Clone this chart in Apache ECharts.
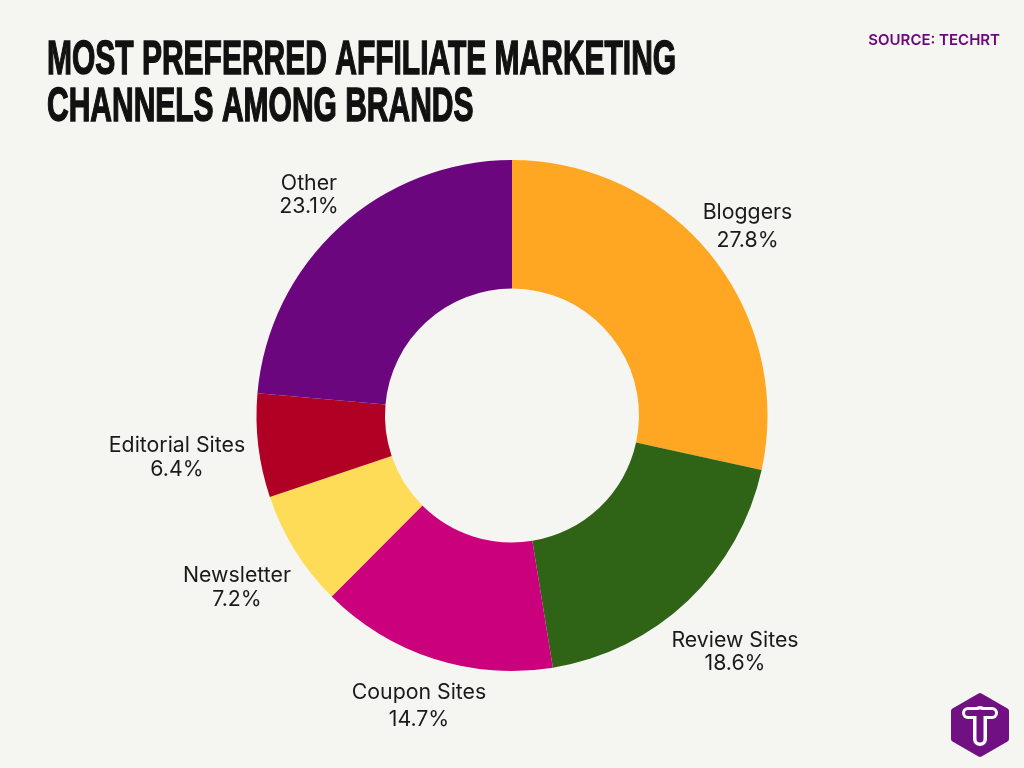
<!DOCTYPE html>
<html>
<head>
<meta charset="utf-8">
<style>
  html, body { margin: 0; padding: 0; background: #f5f5f1; }
  #chart { width: 1024px; height: 768px; }
</style>
<script src="https://cdn.jsdelivr.net/npm/echarts@6/dist/echarts.min.js"></script>
</head>
<body>
<div id="chart"></div>
<script>
const categories = ['Bloggers', 'Review Sites', 'Coupon Sites', 'Newsletter', 'Editorial Sites', 'Other'];
const shares = [27.8, 18.6, 14.7, 7.2, 6.4, 23.1];
const colors = ['#ffa623', '#2f6417', '#cb007c', '#ffdc58', '#b00024', '#6b067f'];
const titleLines = ['MOST PREFERRED AFFILIATE MARKETING', 'CHANNELS AMONG BRANDS'];

// label centres, placed by hand like in the reference
const labelCentres = [[747.5, 227], [735, 652], [419, 706], [237, 588], [177, 458], [309, 195]];
const labelLineHeights = [28, 23, 27, 24, 24, 23];

const myChart = echarts.init(document.getElementById('chart'));

// white T with a purple T inside, for the logo
function logoStroke(points, color, width) {
    return {
        type: 'polyline',
        shape: { points },
        style: { stroke: color, lineWidth: width, lineCap: 'round', fill: null },
    };
}

myChart.setOption({
    backgroundColor: '#f5f5f1',
    animation: false,
    title: {
        text: 'SOURCE: TECHRT',
        right: 24,
        top: 33,
        padding: 0,
        textStyle: {
            fontFamily: 'Inter',
            fontWeight: 600,
            fontSize: 15,
            color: '#6b067f',
        },
    },
    series: [
        {
            type: 'pie',
            center: [512, 415.5],
            radius: [127, 255.5],
            startAngle: 90,
            clockwise: true,
            avoidLabelOverlap: false,
            data: categories.map((name, i) => ({
                name,
                value: shares[i],
                itemStyle: { color: colors[i] },
                label: { lineHeight: labelLineHeights[i] },
            })),
            label: {
                formatter: (p) => p.name + '\n' + p.value + '%',
                fontFamily: 'Inter',
                fontSize: 21.3,
                color: '#1a1a1a',
                align: 'center',
            },
            labelLine: { show: false },
            labelLayout: (p) => ({
                x: labelCentres[p.dataIndex][0],
                y: labelCentres[p.dataIndex][1],
                align: 'center',
                verticalAlign: 'middle',
            }),
        },
    ],
    graphic: [
        ...titleLines.map((line, i) => ({
            type: 'text',
            x: 47,
            y: 36 + i * 47,
            scaleX: 0.612,
            style: {
                text: line,
                fontFamily: 'Liberation Sans',
                fontWeight: 'bold',
                fontSize: 49,
                verticalAlign: 'top',
                fill: '#111111',
                stroke: '#111111',
                lineWidth: 1.5,
            },
        })),
        {
            type: 'polygon',
            shape: { points: [[980, 696], [1006, 711], [1006, 739], [980, 754], [954, 739], [954, 711]] },
            style: {
                fill: '#701083',
                stroke: '#701083',
                lineWidth: 6,
                lineJoin: 'round',
            },
        },
        logoStroke([[968, 713], [992, 713]], '#ffffff', 12),
        logoStroke([[980, 713], [980, 739]], '#ffffff', 14),
        logoStroke([[968, 713], [992, 713]], '#701083', 6),
        logoStroke([[980, 713], [980, 739]], '#701083', 7),
    ],
});
</script>
</body>
</html>
